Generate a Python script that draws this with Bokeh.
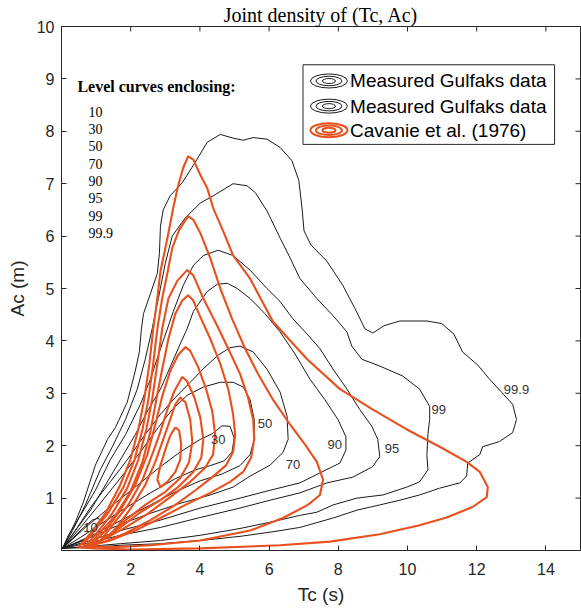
import math
from bokeh.plotting import figure
from bokeh.models import FixedTicker, Range1d
from bokeh.core.properties import value
from bokeh.embed import file_html
from bokeh.resources import INLINE

# ---------------- data ----------------
x_ticks = [2, 4, 6, 8, 10, 12, 14]
y_ticks = [1, 2, 3, 4, 5, 6, 7, 8, 9, 10]
levels = ["10", "30", "50", "70", "90", "95", "99", "99.9"]

# Measured Gulfaks data: level curves (Tc [s], Ac [m])
gulf_10_x = [0.03, 0.32, 0.61, 0.89, 1.07, 1.12, 0.98, 0.69, 0.32, 0.03]
gulf_10_y = [0.04, 0.23, 0.42, 0.58, 0.62, 0.54, 0.38, 0.23, 0.12, 0.04]

gulf_30_x = [0.03, 0.69, 1.41, 2.13, 2.86, 3.43, 4.01, 4.36, 4.64, 4.87, 4.99, 4.93, 4.70, 4.30, 3.87, 3.29, 2.57, 1.85, 1.12, 0.55, 0.03]
gulf_30_y = [0.04, 0.44, 0.83, 1.21, 1.60, 1.88, 2.12, 2.23, 2.38, 2.37, 2.15, 1.88, 1.71, 1.62, 1.54, 1.37, 1.10, 0.81, 0.50, 0.25, 0.04]

gulf_50_x = [0.03, 0.55, 1.12, 1.70, 2.28, 2.80, 3.20, 3.63, 4.10, 4.59, 4.96, 5.25, 5.45, 5.57, 5.57, 5.45, 5.16, 4.64, 4.01, 3.29, 2.57, 1.85, 1.12, 0.55, 0.03]
gulf_50_y = [0.04, 0.44, 0.90, 1.38, 1.88, 2.35, 2.69, 2.96, 3.12, 3.21, 3.21, 3.12, 2.88, 2.50, 2.12, 1.83, 1.62, 1.46, 1.33, 1.12, 0.87, 0.62, 0.37, 0.17, 0.04]

gulf_70_x = [0.03, 0.40, 0.89, 1.41, 1.90, 2.37, 2.86, 3.29, 3.72, 4.15, 4.53, 4.87, 5.16, 5.54, 5.94, 6.32, 6.52, 6.55, 6.40, 6.03, 5.45, 4.96, 4.30, 3.43, 2.57, 1.70, 0.84, 0.03]
gulf_70_y = [0.04, 0.38, 0.87, 1.31, 1.73, 2.17, 2.60, 2.92, 3.21, 3.50, 3.73, 3.87, 3.90, 3.79, 3.46, 3.02, 2.56, 2.12, 1.87, 1.63, 1.42, 1.21, 1.06, 0.90, 0.71, 0.50, 0.25, 0.04]

gulf_90_x = [0.03, 0.40, 0.84, 1.27, 1.70, 2.13, 2.51, 2.86, 3.14, 3.43, 3.63, 3.81, 4.21, 4.50, 4.79, 5.08, 5.45, 5.88, 6.32, 6.75, 7.18, 7.61, 7.99, 8.22, 8.22, 8.05, 7.47, 6.89, 6.03, 5.16, 4.01, 2.86, 1.70, 0.84, 0.03]
gulf_90_y = [0.04, 0.38, 0.77, 1.25, 1.73, 2.21, 2.69, 3.08, 3.50, 3.94, 4.23, 4.56, 4.94, 5.08, 5.10, 5.00, 4.81, 4.52, 4.17, 3.75, 3.27, 2.88, 2.50, 2.17, 1.92, 1.67, 1.48, 1.29, 1.15, 1.00, 0.81, 0.58, 0.38, 0.19, 0.04]

gulf_95_x = [0.03, 0.20, 0.55, 0.98, 1.41, 1.85, 2.28, 2.57, 2.86, 3.06, 3.23, 3.52, 3.81, 4.10, 4.53, 4.96, 5.45, 5.94, 6.32, 6.69, 7.10, 7.47, 7.85, 8.25, 8.62, 8.97, 9.14, 9.20, 8.99, 8.42, 7.67, 6.89, 6.03, 5.16, 4.01, 2.86, 1.70, 0.84, 0.03]
gulf_95_y = [0.04, 0.29, 0.67, 1.15, 1.73, 2.21, 2.79, 3.27, 3.85, 4.23, 4.56, 5.06, 5.44, 5.63, 5.73, 5.63, 5.35, 5.00, 4.75, 4.42, 4.13, 3.85, 3.46, 3.08, 2.69, 2.37, 2.12, 1.79, 1.60, 1.40, 1.29, 1.10, 0.96, 0.81, 0.63, 0.44, 0.29, 0.15, 0.04]

gulf_99_x = [0.03, 0.32, 0.69, 1.12, 1.47, 1.85, 2.19, 2.42, 2.62, 2.80, 3.00, 3.20, 3.58, 4.01, 4.44, 4.96, 5.36, 5.60, 5.94, 6.32, 6.61, 6.89, 7.38, 7.85, 8.25, 8.39, 8.68, 9.20, 9.86, 10.35, 10.64, 10.64, 10.59, 10.56, 10.59, 10.35, 9.98, 9.29, 8.54, 7.85, 7.38, 6.89, 6.03, 5.16, 4.01, 2.86, 1.70, 0.84, 0.03]
gulf_99_y = [0.04, 0.38, 0.87, 1.54, 1.98, 2.50, 3.08, 3.65, 4.23, 4.81, 5.48, 6.00, 6.35, 6.63, 6.79, 7.00, 6.96, 6.83, 6.48, 5.96, 5.58, 5.19, 4.81, 4.48, 4.17, 3.90, 3.65, 3.52, 3.33, 3.08, 2.75, 2.50, 2.21, 1.83, 1.54, 1.31, 1.21, 1.06, 1.00, 0.87, 0.73, 0.67, 0.54, 0.42, 0.29, 0.19, 0.13, 0.08, 0.04]

gulf_999_x = [0.03, 0.40, 0.63, 0.98, 1.33, 1.56, 1.90, 2.13, 2.25, 2.31, 2.37, 2.57, 2.77, 2.83, 2.86, 2.94, 3.14, 3.49, 3.81, 4.21, 4.59, 4.96, 5.25, 5.54, 5.94, 6.32, 6.66, 6.86, 6.95, 7.01, 7.21, 7.67, 8.13, 8.48, 8.77, 9.00, 9.32, 9.78, 10.56, 10.99, 11.34, 11.59, 12.03, 12.37, 12.72, 13.04, 13.15, 13.04, 12.66, 12.17, 12.09, 11.74, 11.71, 11.51, 10.93, 10.35, 9.78, 9.20, 8.54, 7.90, 6.89, 6.03, 5.16, 4.01, 2.86, 1.70, 0.84, 0.03]
gulf_999_y = [0.04, 0.54, 0.92, 1.63, 2.12, 2.35, 2.83, 3.42, 3.79, 4.23, 4.52, 4.90, 5.29, 5.67, 6.19, 6.50, 6.77, 7.02, 7.35, 7.79, 7.94, 7.87, 7.83, 7.88, 7.85, 7.69, 7.44, 7.06, 6.54, 6.10, 5.83, 5.52, 5.06, 4.62, 4.23, 4.15, 4.29, 4.38, 4.38, 4.33, 4.13, 3.79, 3.54, 3.27, 3.02, 2.79, 2.50, 2.25, 2.08, 1.98, 1.83, 1.67, 1.42, 1.29, 1.19, 1.06, 0.96, 0.87, 0.77, 0.63, 0.44, 0.35, 0.27, 0.19, 0.13, 0.10, 0.06, 0.04]

# Cavanie et al. (1976) model: level curves
cav_10_x = [3.29, 3.40, 3.46, 3.43, 3.29, 3.06, 2.86, 2.77, 2.86, 3.00, 3.14, 3.29]
cav_10_y = [2.35, 2.29, 2.02, 1.73, 1.50, 1.31, 1.21, 1.35, 1.63, 1.92, 2.19, 2.35]

cav_30_x = [1.30, 1.64, 2.05, 2.42, 2.71, 2.94, 3.14, 3.29, 3.43, 3.58, 3.72, 3.78, 3.69, 3.43, 3.00, 2.42, 1.85, 1.30]
cav_30_y = [0.23, 0.48, 0.85, 1.25, 1.69, 2.12, 2.50, 2.79, 2.92, 2.83, 2.50, 2.08, 1.69, 1.38, 1.12, 0.87, 0.58, 0.23]

cav_50_x = [1.12, 1.47, 1.93, 2.34, 2.62, 2.86, 3.06, 3.26, 3.49, 3.63, 3.84, 4.01, 4.10, 4.04, 3.81, 3.37, 2.86, 2.28, 1.70, 1.12]
cav_50_y = [0.19, 0.48, 0.87, 1.35, 1.83, 2.27, 2.69, 3.04, 3.31, 3.23, 2.92, 2.54, 2.12, 1.77, 1.50, 1.21, 0.96, 0.73, 0.44, 0.19]

cav_70_x = [0.89, 1.27, 1.70, 2.13, 2.48, 2.71, 2.91, 3.14, 3.37, 3.58, 3.72, 3.95, 4.18, 4.36, 4.44, 4.38, 4.15, 3.72, 3.14, 2.51, 1.85, 1.27, 0.89]
cav_70_y = [0.12, 0.38, 0.77, 1.25, 1.83, 2.40, 2.94, 3.42, 3.73, 3.88, 3.81, 3.50, 3.08, 2.65, 2.21, 1.83, 1.58, 1.31, 1.02, 0.71, 0.44, 0.23, 0.12]

cav_90_x = [0.78, 1.12, 1.56, 1.99, 2.34, 2.57, 2.74, 2.91, 3.09, 3.29, 3.49, 3.66, 3.81, 4.01, 4.30, 4.59, 4.82, 4.96, 5.02, 4.96, 4.76, 4.36, 3.87, 3.29, 2.57, 1.85, 1.27, 0.78]
cav_90_y = [0.08, 0.35, 0.67, 1.12, 1.69, 2.27, 2.88, 3.46, 4.04, 4.52, 4.77, 4.87, 4.77, 4.46, 4.04, 3.56, 3.08, 2.60, 2.21, 1.88, 1.63, 1.40, 1.15, 0.87, 0.58, 0.33, 0.17, 0.08]

cav_95_x = [0.69, 1.04, 1.47, 1.90, 2.22, 2.45, 2.62, 2.77, 2.91, 3.09, 3.35, 3.63, 3.81, 4.10, 4.50, 4.82, 5.16, 5.39, 5.54, 5.57, 5.48, 5.25, 4.87, 4.30, 3.58, 2.86, 2.13, 1.41, 0.69]
cav_95_y = [0.08, 0.35, 0.71, 1.19, 1.73, 2.31, 2.88, 3.56, 4.23, 4.81, 5.15, 5.35, 5.25, 4.81, 4.29, 3.85, 3.37, 2.92, 2.50, 2.12, 1.77, 1.50, 1.31, 1.10, 0.87, 0.62, 0.38, 0.19, 0.08]

cav_99_x = [0.61, 0.95, 1.36, 1.79, 2.11, 2.34, 2.51, 2.65, 2.77, 2.91, 3.06, 3.20, 3.40, 3.66, 3.81, 4.01, 4.30, 4.59, 4.93, 5.31, 5.68, 6.11, 6.61, 7.04, 7.38, 7.56, 7.47, 7.12, 6.40, 5.45, 4.01, 2.57, 1.41, 0.61]
cav_99_y = [0.10, 0.38, 0.73, 1.21, 1.73, 2.31, 2.88, 3.56, 4.23, 4.81, 5.29, 5.77, 6.12, 6.38, 6.31, 6.06, 5.58, 5.00, 4.42, 3.85, 3.37, 2.88, 2.40, 2.02, 1.69, 1.35, 1.06, 0.87, 0.62, 0.38, 0.19, 0.10, 0.06, 0.10]

cav_999_x = [0.49, 0.84, 1.27, 1.67, 1.99, 2.22, 2.39, 2.54, 2.65, 2.77, 2.86, 2.97, 3.09, 3.23, 3.37, 3.52, 3.66, 3.81, 4.01, 4.21, 4.38, 4.67, 4.96, 5.45, 6.11, 7.10, 8.05, 9.00, 9.98, 10.93, 11.71, 12.09, 12.32, 12.29, 11.88, 11.13, 10.35, 9.20, 7.76, 6.32, 4.01, 1.99, 0.98, 0.49]
cav_999_y = [0.06, 0.33, 0.71, 1.21, 1.73, 2.31, 2.88, 3.56, 4.23, 4.81, 5.33, 5.67, 6.06, 6.54, 6.96, 7.31, 7.52, 7.46, 7.17, 6.92, 6.54, 6.10, 5.63, 5.19, 4.37, 3.65, 3.08, 2.69, 2.31, 1.98, 1.69, 1.50, 1.21, 1.02, 0.83, 0.63, 0.48, 0.31, 0.17, 0.10, 0.04, 0.02, 0.04, 0.06]

# inline contour labels of the measured curves
clabel_text = ["10", "30", "50", "70", "90", "95", "99", "99.9"]
clabel_x = [0.84, 4.53, 5.88, 6.69, 7.90, 9.55, 10.90, 13.15]
clabel_y = [0.44, 2.12, 2.42, 1.65, 2.02, 1.94, 2.69, 3.08]

legend_labels = ["Measured Gulfaks data", "Measured Gulfaks data", "Cavanie et al. (1976)"]

# ---------------- style / layout ----------------
AX = "#262626"
RED = "#E8501E"
BLK = "#1a1a1a"
X0, X1, Y0, Y1 = 0, 15, 0, 10

p = figure(width=581, height=613, x_range=Range1d(X0, X1), y_range=Range1d(Y0, Y1),
           output_backend="svg", toolbar_location=None,
           min_border_left=61, min_border_right=1, min_border_top=0, min_border_bottom=63,
           title="Joint density of (Tc, Ac)")
p.title.align = "center"
p.title.text_font = "Liberation Serif"
p.title.text_font_size = "20px"
p.title.text_font_style = "normal"
p.title.text_color = "black"
p.title.standoff = 2
p.grid.visible = False
p.outline_line_color = AX
p.outline_line_width = 1

xa = p.xaxis[0]
ya = p.yaxis[0]
xa.ticker = FixedTicker(ticks=x_ticks)
ya.ticker = FixedTicker(ticks=y_ticks)
for ax in (xa, ya):
    ax.axis_line_color = AX
    ax.major_tick_line_color = AX
    ax.minor_tick_line_color = None
    ax.major_tick_in = 5
    ax.major_tick_out = 0
    ax.major_label_text_font = "Liberation Sans"
    ax.major_label_text_font_size = "16px"
    ax.major_label_text_color = AX
    ax.axis_label_text_font = "Liberation Sans"
    ax.axis_label_text_font_style = "normal"
    ax.axis_label_text_color = AX
    ax.axis_label_text_font_size = "19px"
xa.axis_label = "Tc (s)"
ya.axis_label = "Ac (m)"
xa.major_label_standoff = 12
ya.major_label_standoff = 7
xa.axis_label_standoff = 6
ya.axis_label_standoff = 6

# mirrored inward ticks on the top and right edges (half of each dash is clipped by the frame)
p.scatter(x=x_ticks, y=[Y1] * len(x_ticks), marker="dash", size=10, angle=math.pi / 2,
          line_color=AX, line_width=1)
p.scatter(x=[X1] * len(y_ticks), y=y_ticks, marker="dash", size=10,
          line_color=AX, line_width=1)

# ---------------- curves ----------------
gulf_curves = [(gulf_10_x, gulf_10_y), (gulf_30_x, gulf_30_y), (gulf_50_x, gulf_50_y),
               (gulf_70_x, gulf_70_y), (gulf_90_x, gulf_90_y), (gulf_95_x, gulf_95_y),
               (gulf_99_x, gulf_99_y), (gulf_999_x, gulf_999_y)]
cav_curves = [(cav_10_x, cav_10_y), (cav_30_x, cav_30_y), (cav_50_x, cav_50_y),
              (cav_70_x, cav_70_y), (cav_90_x, cav_90_y), (cav_95_x, cav_95_y),
              (cav_99_x, cav_99_y), (cav_999_x, cav_999_y)]

for xs, ys in gulf_curves:
    p.line(xs, ys, line_color=BLK, line_width=1, line_join="round")
for xs, ys in cav_curves:
    p.line(xs, ys, line_color=RED, line_width=2.1, line_join="round")

p.text(x=clabel_x, y=clabel_y, text=clabel_text, text_font=value("Liberation Sans"),
       text_font_size="13px", text_color="#333333", text_align="center", text_baseline="middle")

# "Level curves enclosing:" block
p.text(x=[0.46], y=[8.85], text=["Level curves enclosing:"], text_font=value("Liberation Serif"),
       text_font_size="16px", text_font_style="bold", text_color="black", text_baseline="middle")
lev_y = [8.37 - 0.33 * i for i in range(len(levels))]
p.text(x=[0.78] * len(levels), y=lev_y, text=levels, text_font=value("Liberation Serif"),
       text_font_size="14px", text_color="black", text_baseline="middle")

# legend drawn as a box with concentric ellipse icons
LX0, LX1, LY0, LY1 = 6.98, 14.25, 7.75, 9.27
rows = [8.96, 8.48, 8.02]
icon_x = [7.73] * 3
p.quad(left=[LX0], right=[LX1], bottom=[LY0], top=[LY1], fill_color="white",
       line_color=AX, line_width=1)
row_colors = [BLK, BLK, RED]
row_widths = [1, 1, 2]
for w, h in [(37, 14), (26, 9.5), (13, 5)]:
    p.ellipse(x=icon_x, y=rows, width=w, height=h, width_units="screen", height_units="screen",
              fill_color=None, line_color=row_colors, line_width=row_widths)
p.text(x=[8.34] * 3, y=rows, text=legend_labels, text_font=value("Liberation Sans"),
       text_font_size="19px", text_color="black", text_baseline="middle")

open("out.html", "w").write(file_html(p, INLINE))
